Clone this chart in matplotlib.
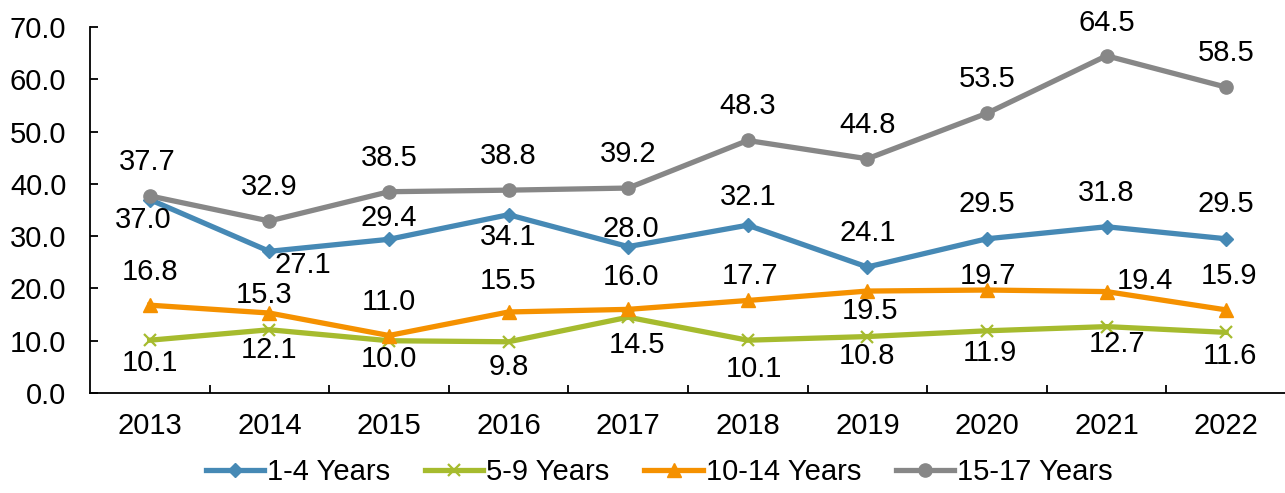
import matplotlib
matplotlib.use("Agg")
import matplotlib.pyplot as plt
from matplotlib.ticker import FixedLocator, NullFormatter

plt.rcParams['font.family'] = ['Liberation Sans', 'DejaVu Sans']

years = ["2013", "2014", "2015", "2016", "2017", "2018", "2019", "2020", "2021", "2022"]
series_names = ["1-4 Years", "5-9 Years", "10-14 Years", "15-17 Years"]
y_1_4 = [37.0, 27.1, 29.4, 34.1, 28.0, 32.1, 24.1, 29.5, 31.8, 29.5]
y_5_9 = [10.1, 12.1, 10.0, 9.8, 14.5, 10.1, 10.8, 11.9, 12.7, 11.6]
y_10_14 = [16.8, 15.3, 11.0, 15.5, 16.0, 17.7, 19.5, 19.7, 19.4, 15.9]
y_15_17 = [37.7, 32.9, 38.5, 38.8, 39.2, 48.3, 44.8, 53.5, 64.5, 58.5]
y_ticks = [0, 10, 20, 30, 40, 50, 60, 70]

# styling
FS = 21
colors = ["#4689B5", "#A6BB2E", "#F59100", "#878787"]
markers = ["D", "x", "^", "o"]
msizes = [7.5, 9, 9.5, 9.5]
# label offsets in pixels (dx, dy), dy up
label_off = [
    [(-7, -20), (33, -14), (0, 21), (0, -22), (3, 18), (0, 28), (0, 34), (0, 35), (0, 34), (0, 35)],
    [(0, -23), (0, -20), (0, -18), (0, -25), (9, -28), (6, -29), (0, -19), (3, -22), (11, -17), (4, -24)],
    [(0, 33), (-5, 18), (0, 34), (0, 31), (3, 32), (2, 24), (3, -20), (1, 14), (38, 11), (3, 34)],
    [(-2, 34), (0, 34), (0, 34), (0, 34), (0, 34), (0, 34), (0, 34), (0, 34), (0, 33), (0, 34)],
]

fig = plt.figure(figsize=(12.85, 4.93), dpi=100)
ax = fig.add_axes([0.070, 0.2028, 0.9307, 0.7424])

x = list(range(len(years)))
all_series = [y_1_4, y_5_9, y_10_14, y_15_17]
handles = []
for i, (name, ys) in enumerate(zip(series_names, all_series)):
    mew = 1.6 if markers[i] == "x" else 1
    h, = ax.plot(x, ys, color=colors[i], lw=3.8, marker=markers[i], ms=msizes[i],
                 mew=mew, mec=colors[i], mfc=colors[i], label=name, zorder=3 + i,
                 solid_joinstyle='round')
    handles.append(h)
    for j, v in enumerate(ys):
        dx, dy = label_off[i][j]
        ax.annotate(f"{v:.1f}", (j, v), xytext=(dx * 0.72, dy * 0.72),
                    textcoords="offset points", ha="center", va="center",
                    fontsize=FS, color="black", zorder=10)

ax.set_xlim(-0.5, len(years) - 0.5)
ax.set_ylim(0, 70)
ax.set_yticks(y_ticks)
ax.set_yticklabels([f"{t:.1f}" for t in y_ticks])
ax.set_xticks(x)
ax.set_xticklabels(years)
ax.xaxis.set_minor_locator(FixedLocator([k + 0.5 for k in range(len(years))]))
ax.xaxis.set_minor_formatter(NullFormatter())
ax.tick_params(axis='x', which='major', length=0, pad=14, labelsize=FS)
ax.tick_params(axis='x', which='minor', length=6, width=1.3, direction='in', color='black')
ax.tick_params(axis='y', which='major', length=6, width=1.3, direction='in', pad=17, labelsize=FS)
for s in ['top', 'right']:
    ax.spines[s].set_visible(False)
for s in ['left', 'bottom']:
    ax.spines[s].set_linewidth(1.3)
    ax.spines[s].set_color('black')

fig.legend(handles=handles, loc='center', bbox_to_anchor=(0.513, 0.042), ncol=4,
           frameon=False, fontsize=FS, handlelength=2.0, handletextpad=0.1,
           columnspacing=1.2, borderaxespad=0)

fig.savefig("out.png", dpi=100)
